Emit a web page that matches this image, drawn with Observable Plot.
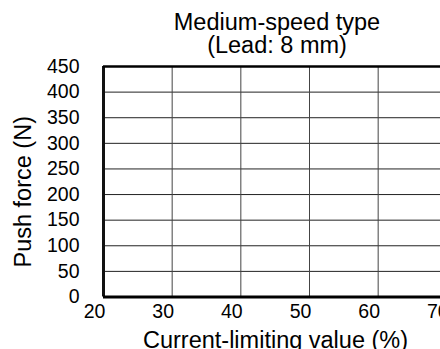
<!DOCTYPE html>
<html>
<head>
<meta charset="utf-8">
<script src="https://cdn.jsdelivr.net/npm/d3@7"></script>
<script src="https://cdn.jsdelivr.net/npm/@observablehq/plot@0.6"></script>
<style>
  html, body { margin: 0; padding: 0; background: white; overflow: hidden; }
  #wrap { width: 440px; height: 349px; overflow: hidden; position: relative; background: white; }
  #title {
    box-sizing: border-box;
    width: 440px; height: 56px;
    padding: 11px 0 0 114px;
    text-align: center;
    font-family: "Liberation Sans", Arial, sans-serif;
    font-size: 23.5px; line-height: 23px; color: #000;
  }
  #title div { white-space: nowrap; }
</style>
</head>
<body>
<div id="wrap">
  <div id="title"></div>
  <div id="chart"></div>
</div>
<script>
const titleLines = ["Medium-speed type", "(Lead: 8 mm)"];
const xLabel = "Current-limiting value (%)";
const yLabel = "Push force (N)";
const xTicks = [20, 30, 40, 50, 60, 70, 80];
const yTicks = [0, 50, 100, 150, 200, 250, 300, 350, 400, 450];

const titleEl = document.getElementById("title");
for (const t of titleLines) {
  const d = document.createElement("div");
  d.textContent = t;
  titleEl.appendChild(d);
}

const labelFont = "'Liberation Sans', Arial, sans-serif";
const tickFont = "'Liberation Sans Narrow', 'Arial Narrow', 'Liberation Sans', Arial, sans-serif";

const chart = Plot.plot({
  width: 440,
  height: 293,
  marginLeft: 103,
  marginRight: 0,
  marginTop: 10,
  marginBottom: 52.5,
  style: {
    fontFamily: tickFont,
    fontSize: "19.5px",
    background: "white",
    color: "black",
    overflow: "hidden"
  },
  x: { domain: [20, 80], range: [103, 515] },
  y: { domain: [0, 450] },
  marks: [
    Plot.ruleY(yTicks.filter(d => d > 0 && d < 450), { stroke: "#222", strokeWidth: 1 }),
    Plot.ruleX(xTicks.filter(d => d > 20), { stroke: "#444", strokeWidth: 1 }),
    Plot.ruleX([20], { stroke: "#111", strokeWidth: 3 }),
    Plot.ruleY([0], { stroke: "#000", strokeWidth: 3 }),
    Plot.ruleY([450], { stroke: "#000", strokeWidth: 2.5 }),
    Plot.axisY({ ticks: yTicks, tickSize: 0, tickPadding: 24, label: null, fill: "#000" }),
    Plot.axisX({ ticks: xTicks, tickSize: 0, tickPadding: 7, label: null, dx: -9, fill: "#000" }),
    Plot.text([xLabel], {
      text: d => d, frameAnchor: "bottom", lineAnchor: "middle", textAnchor: "middle",
      dy: 43, dx: 3.5, fontSize: 23.5, fontFamily: labelFont, fill: "#000"
    }),
    Plot.text([yLabel], {
      text: d => d, frameAnchor: "left", lineAnchor: "middle", textAnchor: "middle", rotate: -90,
      dx: -80.5, dy: 10, fontSize: 23.5, fontFamily: labelFont, fill: "#000"
    })
  ]
});
document.getElementById("chart").appendChild(chart);
</script>
</body>
</html>
